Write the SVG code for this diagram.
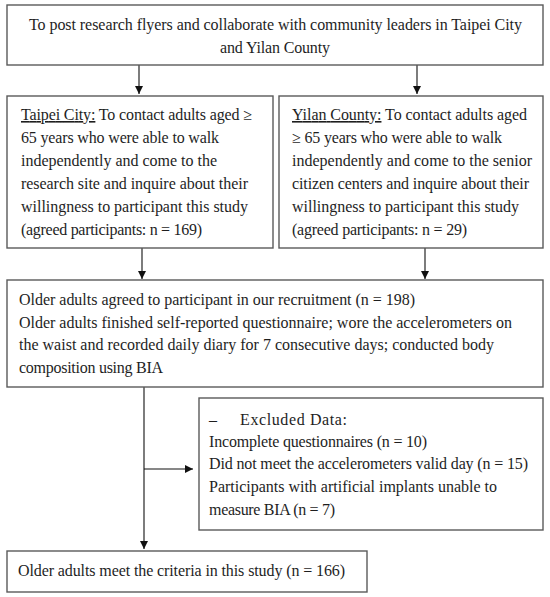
<svg xmlns="http://www.w3.org/2000/svg" width="550" height="597" viewBox="0 0 550 597">
<defs>
<marker id="ah" viewBox="0 0 8 8" refX="8" refY="4" markerWidth="8" markerHeight="8" markerUnits="userSpaceOnUse" orient="auto">
<path d="M0,0 L8,4 L0,8 Z" fill="#111"/>
</marker>
<style>
.box{fill:#fff;stroke:#5a5a5a;stroke-width:1.4}
.t{font-family:"Liberation Serif","Times New Roman",serif;font-size:16px;fill:#1e1e1e}
.c{fill:none;stroke:#111;stroke-width:1.1}
</style>
</defs>
<rect width="550" height="597" fill="#fff"/>
<g id="connectors">
<line class="c" x1="139" y1="65" x2="139" y2="94" marker-end="url(#ah)"/>
<line class="c" x1="417" y1="65" x2="417" y2="94" marker-end="url(#ah)"/>
<line class="c" x1="142" y1="248" x2="142" y2="279" marker-end="url(#ah)"/>
<line class="c" x1="425" y1="248" x2="425" y2="279" marker-end="url(#ah)"/>
<line class="c" x1="144" y1="387" x2="144" y2="549" marker-end="url(#ah)"/>
<line class="c" x1="144" y1="469" x2="193" y2="469" marker-end="url(#ah)"/>
</g>
<g id="top">
<rect class="box" x="7" y="5" width="536" height="60"/>
<text class="t" x="29" y="30" textLength="493">To post research flyers and collaborate with community leaders in Taipei City</text>
<text class="t" x="220" y="53" textLength="110">and Yilan County</text>
</g>
<g id="taipei">
<rect class="box" x="7" y="96" width="266" height="152"/>
<text class="t" x="21" y="120" textLength="231"><tspan text-decoration="underline">Taipei City:</tspan> To contact adults aged ≥</text>
<text class="t" x="21" y="143" textLength="198">65 years who were able to walk</text>
<text class="t" x="21" y="166" textLength="196">independently and come to the</text>
<text class="t" x="21" y="189" textLength="227">research site and inquire about their</text>
<text class="t" x="21" y="212" textLength="227">willingness to participant this study</text>
<text class="t" x="21" y="235" textLength="181">(agreed participants: n = 169)</text>
</g>
<g id="yilan">
<rect class="box" x="279" y="96" width="264" height="152"/>
<text class="t" x="292" y="120" textLength="235"><tspan text-decoration="underline">Yilan County:</tspan> To contact adults aged</text>
<text class="t" x="292" y="143" textLength="210">≥ 65 years who were able to walk</text>
<text class="t" x="292" y="166" textLength="240">independently and come to the senior</text>
<text class="t" x="292" y="189" textLength="237">citizen centers and inquire about their</text>
<text class="t" x="292" y="212" textLength="227">willingness to participant this study</text>
<text class="t" x="292" y="235" textLength="175">(agreed participants: n = 29)</text>
</g>
<g id="recruit">
<rect class="box" x="7" y="280" width="536" height="107"/>
<text class="t" x="19" y="305" textLength="396">Older adults agreed to participant in our recruitment (n = 198)</text>
<text class="t" x="19" y="328" textLength="493">Older adults finished self-reported questionnaire; wore the accelerometers on</text>
<text class="t" x="19" y="350" textLength="475">the waist and recorded daily diary for 7 consecutive days; conducted body</text>
<text class="t" x="19" y="373" textLength="144">composition using BIA</text>
</g>
<g id="excluded">
<rect class="box" x="199" y="398" width="344" height="132"/>
<text class="t" x="209" y="425">–</text>
<text class="t" x="240" y="425" textLength="107">Excluded Data:</text>
<text class="t" x="209" y="447" textLength="218">Incomplete questionnaires (n = 10)</text>
<text class="t" x="209" y="469" textLength="319">Did not meet the accelerometers valid day (n = 15)</text>
<text class="t" x="209" y="492" textLength="288">Participants with artificial implants unable to</text>
<text class="t" x="209" y="515" textLength="126">measure BIA (n = 7)</text>
</g>
<g id="final">
<rect class="box" x="7" y="551" width="360" height="41"/>
<text class="t" x="18" y="576" textLength="327">Older adults meet the criteria in this study (n = 166)</text>
</g>
</svg>
